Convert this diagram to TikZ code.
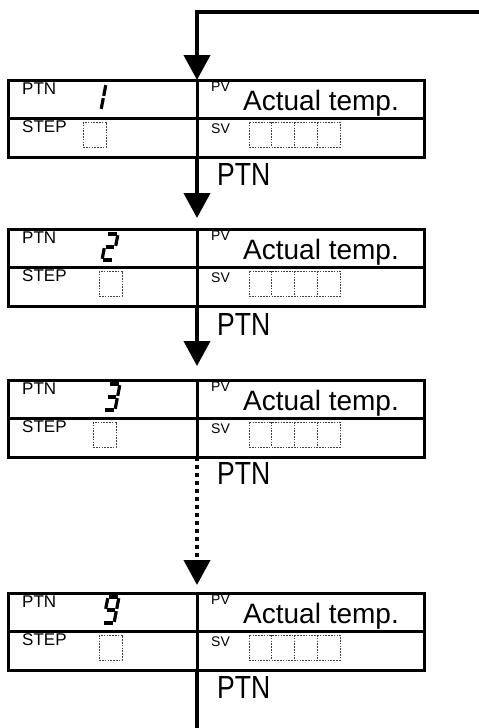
\documentclass[tikz,border=0pt]{standalone}
\usepackage{fontspec}
\setmainfont{Liberation Sans}
\usepackage{graphicx}
\usetikzlibrary{arrows.meta, positioning}

\tikzset{
  half/.style={draw, line width=3pt, minimum height=77pt, inner sep=0pt, outer sep=0pt, anchor=north west},
  flow/.style={line width=4pt, -{Triangle[length=25pt,width=26pt]}},
  segline/.style={line width=3.2pt, shorten <=1.2pt, shorten >=1.2pt},
  cell/.style={draw=black!75, line width=0.9pt, dash pattern=on 1.6pt off 1.2pt},
  tag/.style={font=\fontsize{17}{17}\selectfont, anchor=base west, inner sep=0pt},
  small/.style={font=\fontsize{14}{14}\selectfont, anchor=base west, inner sep=0pt},
  reading/.style={font=\fontsize{28}{28}\selectfont, anchor=base west, inner sep=0pt},
  keylabel/.style={font=\fontsize{32}{32}\selectfont, inner sep=0pt}
}

% seven segment digit: origin, list of segments
\newcommand{\sevenseg}[2]{%
  \begin{scope}[shift={#1}, x={(11pt,0pt)}, y={(-2.5pt,-13pt)}]
    \foreach \xa/\ya/\xb/\yb in {#2} \draw[segline] (\xa,\ya) -- (\xb,\yb);
  \end{scope}}
\newcommand{\keyname}{\scalebox{0.83}[1]{PTN}}

\begin{document}
\begin{tikzpicture}[x=1pt, y=-1pt]
  \useasboundingbox (0,0) rectangle (479,728);

  % display panels
  \foreach \n/\t/\sx in {1/80/83, 2/229/99, 3/380/93, 4/593/99}{
    \node[half, minimum width=189pt] (l\n) at (8,\t) {};
    \node[half, minimum width=227pt] (r\n) at (197,\t) {};
    \draw[line width=3pt] (l\n.west) -- (r\n.east);
    \node[tag] (pt\n) at (22,{\t+14}) {PTN};
    \node[tag] (st\n) at (22,{\t+52}) {STEP};
    \node[small] (pv\n) at (211,{\t+11}) {PV};
    \node[small] (sv\n) at (211,{\t+53}) {SV};
    \node[reading] (tv\n) at (243,{\t+30}) {Actual temp.};
    \draw[cell] (\sx,{\t+42}) rectangle ++(23,25);
    \draw[cell] (249,{\t+42}) rectangle ++(91,25);
    \foreach \k in {1,2,3}
      \draw[cell] ({249+\k*22.75},{\t+42}) -- ++(0,25);
  }

  % pattern numbers
  \sevenseg{(95,84)}{1/0/1/1, 1/1/1/2}
  \sevenseg{(107,234)}{0/0/1/0, 1/0/1/1, 0/1/1/1, 0/1/0/2, 0/2/1/2}
  \sevenseg{(109,384)}{0/0/1/0, 1/0/1/1, 0/1/1/1, 1/1/1/2, 0/2/1/2}
  \sevenseg{(108,597)}{0/0/1/0, 1/0/1/1, 1/1/1/2, 0/2/1/2, 0/0/0/1, 0/1/1/1}

  % key labels
  \node[keylabel, below right=6pt and 20pt of l1.south east] (k1) {\keyname};
  \node[keylabel, below right=7pt and 20pt of l2.south east] (k2) {\keyname};
  \node[keylabel, below right=5pt and 20pt of l3.south east] (k3) {\keyname};
  \node[keylabel, below right=6pt and 20pt of l4.south east] (k4) {\keyname};

  % flow
  \coordinate (loopin) at (479,12);
  \coordinate (loopout) at (197,728);
  \draw[flow] (loopin) -| (l1.north east);
  \draw[flow] (l1.south east) -- ([yshift=11pt]l2.north east);
  \draw[flow] (l2.south east) -- ([yshift=14pt]l3.north east);
  \draw[flow, dash pattern=on 4pt off 4pt] (l3.south east) -- ([yshift=8pt]l4.north east);
  \draw[line width=4pt] (l4.south east) -- (loopout);
\end{tikzpicture}
\end{document}
